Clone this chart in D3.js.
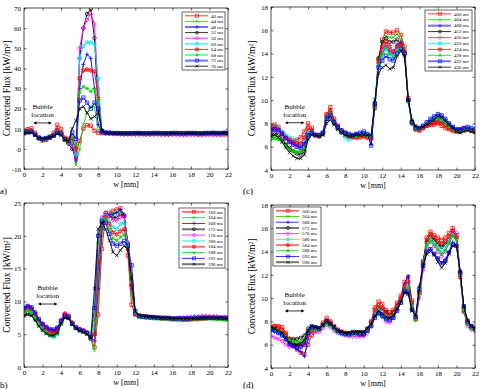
<!DOCTYPE html>
<html>
<head>
<meta charset="utf-8">
<script src="https://cdn.jsdelivr.net/npm/d3@7"></script>
<style>
  body { margin: 0; background: #fff; }
  svg text { font-family: "Liberation Serif", "Times New Roman", serif; fill: #000; }
</style>
</head>
<body>
<svg id="chart" width="480" height="389"></svg>
<script>
// sample positions across the heater, mm
const w = [0, 0.4, 0.8, 1.2, 1.6, 2, 2.4, 2.8, 3.2, 3.6,
  4, 4.4, 4.8, 5.2, 5.6, 6, 6.4, 6.8, 7.2, 7.6,
  8, 8.4, 8.8, 9.2, 9.6, 10, 10.4, 10.8, 11.2, 11.6,
  12, 12.4, 12.8, 13.2, 13.6, 14, 14.4, 14.8, 15.2, 15.6,
  16, 16.4, 16.8, 17.2, 17.6, 18, 18.4, 18.8, 19.2, 19.6,
  20, 20.4, 20.8, 21.2, 21.6, 22];

const xTicks = [0, 2, 4, 6, 8, 10, 12, 14, 16, 18, 20, 22];
const yTicksA = [-10, 0, 10, 20, 30, 40, 50, 60, 70];
const yTicksB = [0, 5, 10, 15, 20, 25];
const yTicksC = [4, 6, 8, 10, 12, 14, 16, 18];
const yTicksD = [4, 6, 8, 10, 12, 14, 16, 18];

const namesA = ['40 ms', '44 ms', '48 ms', '52 ms', '56 ms', '60 ms', '64 ms', '68 ms', '72 ms', '76 ms'];
const namesB = ['160 ms', '164 ms', '168 ms', '172 ms', '176 ms', '180 ms', '184 ms', '188 ms', '192 ms', '196 ms'];
const namesC = ['400 ms', '404 ms', '408 ms', '412 ms', '416 ms', '420 ms', '424 ms', '428 ms', '432 ms', '436 ms'];
const namesD = ['560 ms', '564 ms', '568 ms', '572 ms', '576 ms', '580 ms', '584 ms', '588 ms', '592 ms', '596 ms'];

// convected flux, kW/m2 (one row per time step)
const fluxA = [
  [9.0, 9.8, 10.2, 8.0, 5.5, 4.2, 4.5, 5.5, 8.0, 12.0, 10.0, 5.5, 5.0, 6.0, -2.0, 4.0, 10.0, 11.8, 11.5, 9.0, 8.0, 7.8,
   7.9, 7.8, 7.7, 7.6, 7.6, 7.5, 7.5, 7.6, 7.6, 7.5, 7.5, 7.4, 7.5, 7.5, 7.6, 7.5, 7.4, 7.4,
   7.5, 7.5, 7.4, 7.4, 7.5, 7.5, 7.4, 7.3, 7.4, 7.4, 7.5, 7.4, 7.4, 7.3, 7.4, 7.4],
  [8.5, 9.2, 9.5, 7.5, 5.0, 4.0, 4.3, 5.2, 7.0, 10.5, 8.5, 4.5, 3.5, 3.0, -8.0, 0.0, 12.0, 18.0, 21.0, 21.0, 9.0, 7.8,
   7.8, 7.8, 7.7, 7.7, 7.6, 7.6, 7.6, 7.5, 7.5, 7.5, 7.6, 7.6, 7.5, 7.5, 7.5, 7.4, 7.5, 7.5,
   7.6, 7.5, 7.5, 7.4, 7.4, 7.5, 7.5, 7.5, 7.4, 7.4, 7.5, 7.5, 7.4, 7.4, 7.5, 7.5],
  [8.2, 8.8, 9.0, 7.2, 5.0, 4.2, 4.6, 5.4, 6.8, 9.5, 8.0, 4.5, 3.0, 2.0, -6.0, 30.0, 42.0, 47.0, 45.0, 30.0, 12.0, 8.2,
   8.0, 7.9, 7.8, 7.8, 7.7, 7.7, 7.7, 7.6, 7.7, 7.7, 7.6, 7.6, 7.6, 7.7, 7.7, 7.6, 7.6, 7.6,
   7.7, 7.7, 7.6, 7.6, 7.7, 7.7, 7.7, 7.6, 7.6, 7.7, 7.7, 7.8, 7.7, 7.7, 7.8, 7.8],
  [8.0, 8.5, 8.8, 7.0, 5.2, 4.5, 5.0, 5.6, 6.5, 8.8, 7.6, 4.5, 2.5, 0.0, -4.0, 45.0, 60.0, 67.0, 69.5, 55.0, 20.0, 8.3,
   8.1, 8.0, 7.9, 7.8, 7.8, 7.8, 7.7, 7.7, 7.8, 7.8, 7.7, 7.7, 7.7, 7.8, 7.8, 7.7, 7.7, 7.7,
   7.8, 7.8, 7.7, 7.7, 7.8, 7.8, 7.8, 7.7, 7.7, 7.8, 7.8, 7.9, 7.8, 7.8, 7.9, 7.9],
  [8.3, 8.8, 9.2, 7.3, 5.3, 4.6, 5.0, 5.8, 7.0, 9.6, 8.2, 5.0, 3.0, 2.0, -5.0, 50.0, 60.0, 64.0, 67.0, 62.0, 30.0, 8.0,
   7.6, 7.5, 7.4, 7.3, 7.3, 7.2, 7.2, 7.2, 7.1, 7.1, 7.1, 7.0, 7.0, 7.1, 7.1, 7.0, 7.0, 7.0,
   7.0, 7.1, 7.0, 6.9, 6.9, 7.0, 7.0, 6.9, 6.9, 6.9, 7.0, 7.0, 6.9, 6.9, 6.9, 7.0],
  [8.0, 8.5, 8.8, 7.2, 5.2, 4.6, 5.0, 5.8, 6.8, 9.0, 7.8, 4.6, 3.2, 4.0, -3.0, 45.0, 51.0, 53.0, 53.0, 52.0, 35.0, 9.0,
   7.9, 7.8, 7.7, 7.7, 7.6, 7.6, 7.6, 7.6, 7.7, 7.7, 7.6, 7.6, 7.6, 7.6, 7.7, 7.6, 7.6, 7.5,
   7.6, 7.6, 7.6, 7.5, 7.6, 7.6, 7.6, 7.5, 7.5, 7.6, 7.6, 7.6, 7.5, 7.5, 7.6, 7.6],
  [8.2, 8.8, 9.0, 7.2, 5.4, 4.8, 5.2, 6.0, 7.0, 9.2, 8.0, 5.0, 3.5, 5.0, 0.0, 35.0, 39.0, 39.5, 39.0, 38.5, 25.0, 9.0,
   7.8, 7.7, 7.6, 7.6, 7.5, 7.5, 7.5, 7.5, 7.6, 7.6, 7.5, 7.5, 7.5, 7.5, 7.6, 7.5, 7.5, 7.4,
   7.5, 7.5, 7.5, 7.4, 7.5, 7.5, 7.5, 7.4, 7.4, 7.5, 7.5, 7.5, 7.4, 7.4, 7.5, 7.5],
  [8.0, 8.5, 8.6, 7.0, 5.5, 5.0, 5.4, 6.0, 6.8, 8.5, 7.5, 4.8, 3.6, 6.0, 2.0, 28.0, 31.0, 30.0, 28.5, 30.0, 24.0, 9.0,
   7.9, 7.8, 7.7, 7.7, 7.6, 7.6, 7.6, 7.6, 7.6, 7.6, 7.6, 7.5, 7.6, 7.6, 7.6, 7.5, 7.5, 7.5,
   7.6, 7.6, 7.5, 7.5, 7.6, 7.6, 7.6, 7.5, 7.5, 7.6, 7.6, 7.6, 7.5, 7.5, 7.6, 7.6],
  [7.8, 8.3, 8.4, 7.0, 5.6, 5.0, 5.4, 6.0, 6.6, 8.0, 7.2, 4.8, 4.0, 8.0, 5.0, 24.0, 25.5, 23.0, 20.0, 23.0, 20.0, 9.0,
   8.1, 8.0, 7.9, 7.9, 7.8, 7.8, 7.8, 7.8, 7.9, 7.9, 7.8, 7.8, 7.8, 7.9, 7.9, 7.8, 7.8, 7.8,
   7.9, 7.9, 7.8, 7.8, 7.9, 7.9, 7.9, 7.8, 7.8, 7.9, 7.9, 8.0, 7.9, 7.9, 8.0, 8.0],
  [7.6, 8.0, 8.0, 6.8, 5.5, 5.0, 5.3, 5.8, 6.4, 7.5, 6.8, 4.5, 3.8, 10.0, 14.0, 20.0, 21.0, 18.0, 15.0, 16.0, 18.0, 9.0,
   8.0, 7.9, 7.8, 7.8, 7.7, 7.7, 7.7, 7.7, 7.8, 7.8, 7.7, 7.7, 7.7, 7.8, 7.8, 7.7, 7.7, 7.7,
   7.8, 7.8, 7.7, 7.7, 7.8, 7.8, 7.8, 7.7, 7.7, 7.8, 7.8, 7.9, 7.8, 7.8, 7.9, 7.9]
];

const fluxB = [
  [8.6, 9.0, 8.8, 8.0, 7.0, 6.4, 6.0, 5.6, 5.4, 5.8, 7.0, 8.0, 7.7, 6.6, 6.0, 5.7, 5.5, 5.2,
   4.4, 3.0, 8.0, 18.0, 23.0, 23.5, 23.8, 24.0, 24.2, 23.0, 17.0, 9.5, 8.0,
   7.8, 7.7, 7.6, 7.6, 7.5, 7.5, 7.4, 7.4, 7.3, 7.3, 7.3, 7.3, 7.2, 7.2, 7.3, 7.3, 7.3, 7.4, 7.4, 7.5, 7.5, 7.5, 7.4, 7.4, 7.5],
  [8.2, 8.5, 8.2, 7.5, 6.6, 5.9, 5.4, 5.0, 4.8, 5.2, 6.6, 7.6, 7.5, 6.5, 5.9, 5.6, 5.4, 5.1,
   4.2, 2.5, 10.0, 20.0, 23.0, 23.3, 23.5, 23.6, 23.8, 23.0, 18.5, 11.0, 8.0,
   7.6, 7.5, 7.5, 7.4, 7.4, 7.4, 7.3, 7.3, 7.3, 7.3, 7.2, 7.2, 7.2, 7.2, 7.2, 7.3, 7.3, 7.3, 7.3, 7.3, 7.3, 7.2, 7.2, 7.1, 7.1],
  [9.0, 9.3, 9.1, 8.3, 7.3, 6.6, 6.1, 5.7, 5.6, 6.0, 7.0, 7.8, 7.6, 6.6, 6.0, 5.7, 5.5, 5.2,
   4.5, 4.0, 12.0, 21.0, 23.2, 23.2, 23.3, 23.5, 24.0, 23.3, 18.5, 12.0, 8.1,
   7.7, 7.6, 7.6, 7.5, 7.5, 7.5, 7.4, 7.4, 7.4, 7.4, 7.3, 7.3, 7.3, 7.3, 7.4, 7.4, 7.4, 7.4, 7.5, 7.5, 7.5, 7.4, 7.4, 7.4, 7.4],
  [7.9, 8.2, 8.0, 7.3, 6.4, 5.7, 5.2, 4.9, 4.8, 5.2, 6.6, 7.6, 7.5, 6.6, 6.0, 5.6, 5.4, 5.1,
   4.3, 5.0, 15.0, 22.5, 23.5, 23.0, 22.8, 22.8, 23.3, 23.0, 18.8, 12.5, 8.2,
   7.8, 7.7, 7.7, 7.6, 7.6, 7.5, 7.5, 7.5, 7.4, 7.4, 7.4, 7.4, 7.4, 7.4, 7.4, 7.4, 7.5, 7.5, 7.5, 7.5, 7.5, 7.5, 7.5, 7.5, 7.5],
  [8.6, 9.0, 8.8, 8.0, 7.0, 6.3, 5.8, 5.3, 5.1, 5.6, 7.2, 8.2, 7.9, 6.8, 6.1, 5.8, 5.6, 5.3,
   4.4, 4.0, 15.0, 22.8, 23.5, 23.0, 22.4, 22.3, 22.8, 23.0, 19.0, 13.0, 8.1,
   7.7, 7.7, 7.6, 7.6, 7.5, 7.5, 7.5, 7.4, 7.4, 7.4, 7.4, 7.5, 7.5, 7.6, 7.6, 7.7, 7.7, 7.8, 7.8, 7.7, 7.7, 7.7, 7.6, 7.6, 7.6],
  [8.3, 8.6, 8.3, 7.5, 6.5, 5.8, 5.2, 4.8, 4.6, 5.0, 6.6, 7.7, 7.6, 6.6, 6.0, 5.6, 5.4, 5.1,
   4.4, 6.0, 17.0, 22.5, 23.0, 22.3, 21.3, 21.0, 21.8, 22.0, 18.5, 13.0, 8.2,
   7.7, 7.6, 7.6, 7.5, 7.5, 7.4, 7.4, 7.4, 7.3, 7.3, 7.3, 7.3, 7.4, 7.4, 7.4, 7.5, 7.5, 7.5, 7.5, 7.5, 7.4, 7.4, 7.4, 7.3, 7.3],
  [8.6, 9.0, 8.8, 8.0, 7.0, 6.4, 5.9, 5.4, 5.2, 5.7, 7.0, 8.0, 7.7, 6.7, 6.0, 5.7, 5.5, 5.2,
   4.4, 5.0, 16.0, 22.0, 22.8, 21.8, 20.5, 20.2, 20.7, 21.0, 18.0, 12.5, 8.1,
   7.8, 7.7, 7.6, 7.6, 7.5, 7.5, 7.4, 7.4, 7.4, 7.3, 7.3, 7.3, 7.3, 7.3, 7.3, 7.4, 7.4, 7.4, 7.5, 7.5, 7.5, 7.4, 7.4, 7.4, 7.4],
  [8.3, 8.6, 8.3, 7.5, 6.6, 5.9, 5.3, 4.9, 4.7, 5.1, 6.6, 7.6, 7.5, 6.5, 5.9, 5.6, 5.4, 5.1,
   4.3, 7.0, 19.0, 22.3, 22.5, 21.0, 19.6, 19.3, 19.8, 20.2, 18.3, 14.0, 8.3,
   7.6, 7.6, 7.5, 7.5, 7.4, 7.4, 7.4, 7.3, 7.3, 7.3, 7.3, 7.3, 7.3, 7.3, 7.3, 7.3, 7.4, 7.4, 7.4, 7.4, 7.3, 7.3, 7.3, 7.2, 7.2],
  [9.0, 9.3, 9.1, 8.3, 7.3, 6.6, 6.1, 5.8, 5.7, 6.0, 7.0, 7.8, 7.6, 6.6, 6.0, 5.7, 5.5, 5.2,
   4.6, 9.0, 20.0, 22.2, 22.0, 20.3, 18.8, 18.5, 18.8, 19.2, 18.5, 15.5, 8.5,
   7.8, 7.7, 7.7, 7.6, 7.6, 7.5, 7.5, 7.5, 7.5, 7.4, 7.4, 7.4, 7.4, 7.4, 7.4, 7.5, 7.5, 7.5, 7.5, 7.5, 7.5, 7.5, 7.5, 7.5, 7.4],
  [7.8, 8.0, 7.8, 7.1, 6.2, 5.6, 5.1, 4.8, 4.8, 5.2, 6.6, 7.5, 7.4, 6.5, 5.9, 5.5, 5.3, 5.0,
   4.4, 12.0, 21.0, 22.0, 21.0, 19.3, 17.5, 17.0, 17.8, 18.5, 18.0, 13.5, 8.5,
   7.9, 7.8, 7.7, 7.7, 7.6, 7.6, 7.5, 7.5, 7.5, 7.4, 7.4, 7.4, 7.4, 7.4, 7.4, 7.4, 7.4, 7.5, 7.5, 7.5, 7.5, 7.5, 7.5, 7.4, 7.4]
];

const fluxC = [
  [7.8, 7.9, 7.7, 7.2, 6.8, 6.6, 6.5, 6.6, 6.8, 7.3, 8.0, 7.6, 7.0, 6.9, 7.2, 8.8, 9.4, 8.4, 7.8, 7.4, 7.2, 7.0, 6.9, 6.8, 6.8, 6.9, 6.8,
   6.7, 9.5, 13.5, 15.2, 15.9, 15.8, 15.8, 16.0, 15.6, 14.6, 10.2, 8.1,
   7.5, 7.4, 7.6, 7.8, 7.9, 7.9, 8.0, 7.8, 7.6, 7.5, 7.4, 7.3, 7.4, 7.6, 7.5, 7.4, 7.3],
  [6.8, 6.8, 6.7, 6.6, 6.2, 5.9, 5.7, 5.6, 5.5, 5.8, 7.0, 7.2, 7.0, 6.9, 7.1, 8.6, 9.0, 8.2, 7.6, 7.3, 7.1, 7.0, 6.9, 6.9, 7.0, 7.0, 6.9,
   6.9, 9.6, 13.6, 15.0, 15.5, 15.4, 15.4, 15.7, 15.2, 14.4, 10.0, 8.1,
   7.5, 7.5, 7.7, 7.9, 8.1, 8.2, 8.3, 8.1, 7.9, 7.7, 7.5, 7.3, 7.3, 7.4, 7.5, 7.4, 7.3],
  [7.5, 7.6, 7.5, 7.2, 6.8, 6.4, 6.2, 6.1, 6.0, 6.3, 7.2, 7.3, 7.0, 7.0, 7.3, 8.6, 8.8, 8.2, 7.8, 7.4, 7.2, 7.0, 7.0, 7.1, 7.1, 7.2, 7.0,
   6.2, 9.8, 13.0, 14.0, 14.6, 14.2, 14.0, 14.8, 15.0, 14.2, 10.0, 8.1,
   7.6, 7.6, 7.8, 8.0, 8.3, 8.5, 8.7, 8.6, 8.3, 8.0, 7.7, 7.5, 7.5, 7.6, 7.6, 7.5, 7.4],
  [7.0, 7.2, 7.0, 6.7, 6.2, 5.9, 5.6, 5.4, 5.3, 5.6, 6.8, 7.1, 7.0, 6.9, 7.1, 8.2, 8.6, 8.0, 7.6, 7.2, 7.0, 6.9, 6.9, 7.0, 7.0, 7.1, 7.0,
   6.9, 9.6, 13.6, 15.0, 15.3, 15.0, 15.0, 15.2, 14.8, 14.0, 10.0, 8.2,
   7.7, 7.6, 7.7, 7.9, 8.1, 8.3, 8.5, 8.4, 8.1, 7.8, 7.6, 7.4, 7.4, 7.5, 7.5, 7.4, 7.3],
  [7.4, 7.5, 7.4, 7.1, 6.8, 6.5, 6.3, 6.1, 6.0, 6.3, 7.0, 7.2, 7.0, 7.0, 7.2, 8.5, 8.9, 8.2, 7.7, 7.3, 7.1, 7.0, 6.9, 6.9, 7.0, 7.0, 6.9,
   6.8, 9.4, 13.2, 14.3, 14.8, 14.3, 14.0, 14.6, 14.6, 14.0, 10.0, 8.0,
   7.5, 7.5, 7.7, 7.9, 8.1, 8.2, 8.3, 8.2, 8.0, 7.7, 7.5, 7.3, 7.3, 7.5, 7.5, 7.4, 7.3],
  [7.7, 7.8, 7.6, 7.3, 7.0, 6.8, 6.6, 6.4, 6.2, 6.6, 7.3, 7.2, 7.0, 7.0, 7.2, 8.6, 9.0, 8.1, 7.5, 7.2, 6.8, 6.6, 6.8, 6.9, 7.0, 7.1, 7.0,
   6.9, 9.3, 12.8, 13.6, 14.4, 13.9, 13.8, 14.4, 14.6, 14.0, 10.0, 8.0,
   7.5, 7.6, 7.7, 8.0, 8.2, 8.4, 8.5, 8.4, 8.1, 7.8, 7.5, 7.3, 7.3, 7.5, 7.6, 7.5, 7.4],
  [7.6, 7.7, 7.5, 7.1, 6.8, 6.6, 6.4, 6.3, 6.3, 6.8, 7.6, 7.4, 7.0, 6.9, 7.1, 8.7, 9.1, 8.2, 7.6, 7.3, 7.1, 6.9, 6.8, 6.8, 6.9, 6.9, 6.8,
   6.7, 9.3, 13.3, 14.6, 15.0, 14.6, 14.2, 14.6, 14.8, 14.2, 10.0, 8.0,
   7.5, 7.4, 7.6, 7.8, 7.9, 8.0, 8.1, 8.0, 7.8, 7.6, 7.4, 7.3, 7.3, 7.5, 7.5, 7.4, 7.3],
  [6.6, 6.7, 6.6, 6.4, 6.0, 5.7, 5.6, 5.5, 5.6, 5.9, 6.9, 7.1, 7.0, 6.9, 7.1, 8.4, 8.8, 8.1, 7.6, 7.3, 7.1, 7.0, 6.9, 6.9, 7.0, 7.0, 6.9,
   6.9, 9.4, 13.0, 14.0, 14.5, 14.0, 13.7, 14.2, 14.3, 13.8, 9.8, 8.0,
   7.5, 7.5, 7.7, 8.0, 8.2, 8.3, 8.4, 8.3, 8.0, 7.7, 7.5, 7.3, 7.3, 7.4, 7.5, 7.4, 7.3],
  [7.4, 7.5, 7.4, 7.1, 6.7, 6.4, 6.2, 6.0, 5.9, 6.2, 7.0, 7.2, 7.0, 7.0, 7.2, 8.4, 8.7, 8.1, 7.7, 7.4, 7.2, 7.1, 7.0, 7.1, 7.2, 7.3, 7.1,
   6.1, 9.7, 12.8, 13.4, 13.8, 13.5, 13.4, 14.0, 14.4, 14.0, 10.0, 8.1,
   7.6, 7.6, 7.8, 8.1, 8.4, 8.6, 8.8, 8.7, 8.4, 8.0, 7.7, 7.5, 7.5, 7.6, 7.7, 7.6, 7.5],
  [6.9, 7.0, 6.8, 6.4, 5.9, 5.5, 5.2, 5.0, 5.0, 5.3, 6.6, 7.0, 7.0, 6.9, 7.0, 8.0, 8.3, 7.9, 7.5, 7.2, 7.0, 6.9, 6.9, 7.0, 7.0, 7.0, 7.0,
   7.0, 10.0, 12.3, 12.8, 13.0, 12.7, 12.8, 13.8, 14.2, 13.8, 10.0, 8.3,
   7.8, 7.6, 7.7, 7.9, 8.1, 8.3, 8.6, 8.5, 8.2, 7.9, 7.6, 7.3, 7.2, 7.3, 7.4, 7.3, 7.2]
];

const fluxD = [
  [7.4, 7.6, 7.6, 7.5, 7.0, 6.4, 6.0, 5.6, 5.3, 5.2, 6.0, 6.8, 7.2, 7.4, 7.9, 8.3, 8.0, 7.6, 7.3, 7.1,
   7.0, 7.0, 7.0, 7.0, 6.9, 6.9, 7.3, 8.0, 9.2, 9.7, 9.5, 9.0, 8.8, 9.0, 9.6, 10.2, 11.4, 11.8, 9.8, 8.3,
   10.5, 13.0, 15.2, 15.7, 15.4, 15.2, 15.0, 15.2, 15.6, 16.0, 15.4, 12.0, 9.0, 8.0, 7.6, 7.4],
  [7.5, 7.4, 7.3, 7.1, 6.8, 6.5, 6.4, 6.3, 6.3, 6.5, 7.0, 7.3, 7.3, 7.3, 7.6, 7.9, 7.7, 7.4, 7.2, 7.1,
   7.0, 7.0, 7.1, 7.1, 7.0, 7.0, 7.3, 7.8, 8.6, 8.8, 8.6, 8.3, 8.3, 8.6, 9.2, 9.8, 10.7, 10.9, 9.3, 8.1,
   10.2, 12.8, 15.0, 15.4, 15.1, 14.8, 14.6, 14.8, 15.2, 15.6, 15.0, 11.8, 8.8, 7.8, 7.4, 7.2],
  [7.2, 7.1, 7.0, 6.8, 6.4, 6.0, 5.8, 5.6, 5.4, 5.0, 6.5, 7.4, 7.5, 7.4, 7.7, 8.0, 7.8, 7.5, 7.2, 7.0,
   6.9, 6.9, 7.0, 7.0, 6.9, 6.9, 7.2, 7.6, 8.4, 8.8, 8.6, 8.3, 8.2, 8.4, 9.0, 9.7, 11.2, 11.9, 9.5, 8.3,
   10.3, 12.6, 14.0, 14.2, 13.8, 13.4, 13.0, 13.3, 14.0, 14.8, 14.6, 12.0, 9.2, 8.0, 7.6, 7.4],
  [7.4, 7.3, 7.2, 7.0, 6.7, 6.5, 6.5, 6.5, 6.6, 6.8, 7.4, 7.6, 7.5, 7.4, 7.7, 8.0, 7.8, 7.5, 7.2, 7.1,
   7.0, 7.0, 7.1, 7.1, 7.1, 7.1, 7.4, 7.9, 8.7, 9.2, 9.1, 8.8, 8.6, 8.8, 9.3, 9.9, 10.8, 10.6, 9.0, 8.4,
   10.6, 13.2, 14.8, 15.2, 15.0, 14.6, 14.4, 14.6, 15.0, 15.5, 15.2, 12.3, 9.2, 8.0, 7.6, 7.4],
  [6.8, 6.6, 6.5, 6.3, 6.0, 5.8, 5.9, 6.0, 6.1, 6.3, 6.8, 7.1, 7.1, 7.1, 7.4, 7.7, 7.5, 7.2, 7.0, 6.9,
   6.8, 6.7, 6.7, 6.7, 6.7, 6.7, 7.0, 7.6, 8.6, 8.8, 8.4, 8.0, 7.9, 8.3, 9.0, 9.6, 10.5, 10.8, 9.2, 8.2,
   10.0, 12.4, 14.4, 14.8, 14.5, 14.0, 13.6, 14.0, 14.8, 15.8, 15.6, 12.2, 8.8, 7.6, 7.3, 7.2],
  [7.3, 7.2, 7.1, 6.9, 6.6, 6.3, 6.1, 6.0, 6.0, 6.2, 6.9, 7.3, 7.3, 7.3, 7.6, 7.9, 7.7, 7.4, 7.1, 7.0,
   6.9, 6.8, 6.9, 6.9, 6.9, 6.9, 7.2, 7.8, 8.8, 9.0, 8.8, 8.4, 8.3, 8.5, 9.2, 9.8, 10.9, 11.2, 9.4, 8.3,
   10.8, 13.0, 14.6, 15.0, 14.7, 14.3, 14.0, 14.3, 15.0, 15.6, 15.2, 12.0, 9.0, 7.8, 7.5, 7.3],
  [7.5, 7.6, 7.5, 7.3, 6.9, 6.5, 6.2, 6.0, 5.9, 6.1, 6.8, 7.2, 7.3, 7.3, 7.7, 8.1, 7.9, 7.5, 7.2, 7.1,
   7.0, 6.9, 7.0, 7.0, 6.9, 6.9, 7.3, 7.9, 9.0, 9.4, 9.1, 8.7, 8.5, 8.8, 9.4, 10.0, 11.0, 11.4, 9.6, 8.2,
   10.4, 13.0, 15.0, 15.5, 15.2, 14.9, 14.7, 14.9, 15.3, 15.8, 15.2, 11.8, 8.9, 7.8, 7.5, 7.3],
  [7.4, 7.3, 7.2, 7.0, 6.7, 6.4, 6.3, 6.2, 6.2, 6.4, 7.0, 7.3, 7.3, 7.3, 7.6, 7.8, 7.6, 7.3, 7.1, 7.0,
   6.9, 6.9, 7.0, 7.0, 7.0, 7.0, 7.2, 7.7, 8.4, 8.6, 8.4, 8.2, 8.2, 8.5, 9.1, 9.7, 10.5, 10.9, 9.2, 8.1,
   10.4, 12.9, 14.5, 14.9, 14.6, 14.2, 13.8, 14.1, 14.7, 15.3, 15.0, 12.0, 9.0, 7.8, 7.4, 7.2],
  [7.3, 7.2, 7.0, 6.8, 6.5, 6.1, 5.9, 5.8, 5.8, 6.0, 7.0, 7.5, 7.5, 7.4, 7.7, 8.0, 7.8, 7.5, 7.2, 7.0,
   6.9, 6.9, 7.0, 7.0, 6.9, 6.9, 7.2, 7.6, 8.3, 8.7, 8.5, 8.2, 8.1, 8.3, 8.9, 9.6, 10.6, 10.4, 9.0, 8.4,
   10.8, 12.8, 14.0, 14.2, 13.8, 13.4, 13.0, 13.2, 13.9, 14.6, 14.5, 12.2, 9.3, 8.0, 7.6, 7.4],
  [7.5, 7.4, 7.2, 7.0, 6.6, 6.2, 6.0, 6.0, 6.1, 6.4, 7.2, 7.6, 7.5, 7.4, 7.7, 8.0, 7.8, 7.5, 7.2, 7.1,
   7.0, 7.0, 7.1, 7.1, 7.1, 7.1, 7.4, 7.8, 8.5, 8.9, 8.7, 8.4, 8.3, 8.5, 9.1, 9.7, 10.5, 10.4, 8.9, 8.5,
   11.0, 12.8, 13.8, 14.0, 13.7, 13.1, 12.6, 13.0, 13.8, 14.5, 14.5, 12.3, 9.3, 8.1, 7.6, 7.4]
];

const colors = ['#ff0000', '#00d400', '#0000ff', '#000000', '#ff00ff',
  '#00e6ee', '#ff0000', '#00d400', '#0000ff', '#000000'];
const markers = ['square', 'x', 'plus', 'circle', 'diamond',
  'star', 'hexagram', 'asterisk', 'square', 'x'];

const panels = [
  { tag: 'a)', tagX: 0, tagY: 194, names: namesA, flux: fluxA, yDomain: [-10, 70], yTicks: yTicksA,
    left: 24, right: 228, top: 8, bottom: 169, labelX: 7,
    legend: { x: 182, y: 12, w: 43, h: 58 }, thick: [2, 5, 8],
    bubble: { w0: 1.0, w1: 3.0, v: 12.9 } },
  { tag: 'b)', tagX: 0, tagY: 388, names: namesB, flux: fluxB, yDomain: [0, 25], yTicks: yTicksB,
    left: 24, right: 228, top: 203, bottom: 367, labelX: 7,
    legend: { x: 179, y: 208, w: 46, h: 60 }, thick: [0, 3, 6, 9],
    bubble: { w0: 1.5, w1: 3.6, v: 9.6 } },
  { tag: '(c)', tagX: 243, tagY: 194, names: namesC, flux: fluxC, yDomain: [4, 18], yTicks: yTicksC,
    left: 271, right: 475, top: 7, bottom: 170, labelX: 252,
    legend: { x: 425, y: 10, w: 47, h: 61 }, thick: [2, 5, 8],
    bubble: { w0: 1.5, w1: 3.6, v: 8.06 } },
  { tag: '(d)', tagX: 243, tagY: 388, names: namesD, flux: fluxD, yDomain: [4, 18], yTicks: yTicksD,
    left: 271, right: 475, top: 205, bottom: 368, labelX: 252,
    legend: { x: 273, y: 207, w: 48, h: 59 }, thick: [0, 3, 6, 9],
    bubble: { w0: 1.5, w1: 3.6, v: 8.9 } }
];

function markerPath(kind, r) {
  const p = d3.path();
  if (kind === 'square') {
    p.rect(-r, -r, 2 * r, 2 * r);
  } else if (kind === 'x') {
    p.moveTo(-r, -r); p.lineTo(r, r);
    p.moveTo(-r, r); p.lineTo(r, -r);
  } else if (kind === 'plus') {
    p.moveTo(-r * 1.2, 0); p.lineTo(r * 1.2, 0);
    p.moveTo(0, -r * 1.2); p.lineTo(0, r * 1.2);
  } else if (kind === 'circle') {
    p.moveTo(r, 0); p.arc(0, 0, r, 0, 2 * Math.PI);
  } else if (kind === 'diamond') {
    p.moveTo(0, -r * 1.3); p.lineTo(r * 1.1, 0); p.lineTo(0, r * 1.3); p.lineTo(-r * 1.1, 0); p.closePath();
  } else if (kind === 'star' || kind === 'hexagram') {
    const n = kind === 'star' ? 5 : 6;
    for (let k = 0; k < 2 * n; k++) {
      const a = -Math.PI / 2 + k * Math.PI / n;
      const rr = k % 2 === 0 ? r * 1.4 : r * 0.6;
      if (k === 0) p.moveTo(rr * Math.cos(a), rr * Math.sin(a));
      else p.lineTo(rr * Math.cos(a), rr * Math.sin(a));
    }
    p.closePath();
  } else {
    // asterisk
    const q = r * 0.8;
    p.moveTo(-r * 1.1, 0); p.lineTo(r * 1.1, 0);
    p.moveTo(0, -r * 1.1); p.lineTo(0, r * 1.1);
    p.moveTo(-q, -q); p.lineTo(q, q);
    p.moveTo(-q, q); p.lineTo(q, -q);
  }
  return p.toString();
}

const svg = d3.select('#chart');
const defs = svg.append('defs');

panels.forEach((cfg, pi) => {
  const x = d3.scaleLinear().domain([0, 22]).range([cfg.left, cfg.right]);
  const y = d3.scaleLinear().domain(cfg.yDomain).range([cfg.bottom, cfg.top]);
  const g = svg.append('g');

  defs.append('clipPath').attr('id', `clip${pi}`)
    .append('rect')
    .attr('x', cfg.left).attr('y', cfg.top)
    .attr('width', cfg.right - cfg.left).attr('height', cfg.bottom - cfg.top);

  const plot = g.append('g').attr('clip-path', `url(#clip${pi})`);
  const line = d3.line()
    .x((d, i) => x(w[i]))
    .y((d) => y(d));

  cfg.flux.forEach((series, si) => {
    plot.append('path')
      .datum(series)
      .attr('d', line)
      .attr('fill', 'none')
      .attr('stroke', colors[si])
      .attr('stroke-width', 0.9);

    const mp = markerPath(markers[si], 1.7);
    plot.append('g')
      .selectAll('path')
      .data(series)
      .join('path')
      .attr('d', mp)
      .attr('transform', (d, i) => `translate(${x(w[i])},${y(d)})`)
      .attr('fill', 'none')
      .attr('stroke', colors[si])
      .attr('stroke-width', 0.75);
  });

  // bubble annotation
  const b = cfg.bubble;
  const ay = y(b.v);
  const ax0 = x(b.w0);
  const ax1 = x(b.w1);
  g.append('line')
    .attr('x1', ax0 + 1).attr('x2', ax1 - 1)
    .attr('y1', ay).attr('y2', ay)
    .attr('stroke', '#000').attr('stroke-width', 0.8);
  g.append('path')
    .attr('d', `M${ax0},${ay}l3.2,-1.6v3.2Z M${ax1},${ay}l-3.2,-1.6v3.2Z`)
    .attr('fill', '#000');
  g.append('text')
    .attr('x', (ax0 + ax1) / 2).attr('y', ay - 14)
    .attr('text-anchor', 'middle').attr('font-size', 7)
    .text('Bubble');
  g.append('text')
    .attr('x', (ax0 + ax1) / 2).attr('y', ay - 5.6)
    .attr('text-anchor', 'middle').attr('font-size', 7)
    .text('location');

  // axes, MATLAB style ticks pointing inward
  const tick = 2.5;
  const fmt = (d) => String(d);
  g.append('g')
    .attr('transform', `translate(0,${cfg.bottom})`)
    .call(d3.axisBottom(x).tickValues(xTicks).tickSize(-tick).tickPadding(3.5).tickFormat(fmt));
  g.append('g')
    .attr('transform', `translate(0,${cfg.top})`)
    .call(d3.axisTop(x).tickValues(xTicks).tickSize(-tick).tickFormat(''));
  g.append('g')
    .attr('transform', `translate(${cfg.left},0)`)
    .call(d3.axisLeft(y).tickValues(cfg.yTicks).tickSize(-tick).tickPadding(3).tickFormat(fmt));
  g.append('g')
    .attr('transform', `translate(${cfg.right},0)`)
    .call(d3.axisRight(y).tickValues(cfg.yTicks).tickSize(-tick).tickFormat(''));

  g.selectAll('.domain').remove();
  g.selectAll('.tick line').attr('stroke', '#000').attr('stroke-width', 0.6);
  g.selectAll('.tick text')
    .attr('font-size', 7)
    .attr('font-family', '"Liberation Serif", "Times New Roman", serif');

  g.append('rect')
    .attr('x', cfg.left).attr('y', cfg.top)
    .attr('width', cfg.right - cfg.left).attr('height', cfg.bottom - cfg.top)
    .attr('fill', 'none').attr('stroke', '#000').attr('stroke-width', 0.7);

  // labels
  g.append('text')
    .attr('x', (cfg.left + cfg.right) / 2).attr('y', cfg.bottom + 17.5)
    .attr('text-anchor', 'middle').attr('font-size', 8)
    .text('w [mm]');
  g.append('text')
    .attr('transform', `translate(${cfg.labelX + 3},${(cfg.top + cfg.bottom) / 2}) rotate(-90)`)
    .attr('text-anchor', 'middle').attr('font-size', 9.5)
    .text('Convected Flux [kW/m²]');
  g.append('text')
    .attr('x', cfg.tagX).attr('y', cfg.tagY)
    .attr('font-size', 9)
    .text(cfg.tag);

  // legend
  const lg = cfg.legend;
  const leg = g.append('g');
  leg.append('rect')
    .attr('x', lg.x).attr('y', lg.y).attr('width', lg.w).attr('height', lg.h)
    .attr('fill', '#fff').attr('stroke', '#000').attr('stroke-width', 0.6);
  const step = (lg.h - 7.6) / 9;
  cfg.names.forEach((name, si) => {
    const ry = lg.y + 3.8 + si * step;
    const thick = cfg.thick.includes(si);
    leg.append('line')
      .attr('x1', lg.x + 3).attr('x2', lg.x + 26)
      .attr('y1', ry).attr('y2', ry)
      .attr('stroke', colors[si])
      .attr('stroke-width', thick ? 2 : 0.8)
      .attr('stroke-opacity', thick ? 0.55 : 1);
    leg.append('path')
      .attr('d', markerPath(markers[si], 1.5))
      .attr('transform', `translate(${lg.x + 15},${ry})`)
      .attr('fill', 'none')
      .attr('stroke', colors[si])
      .attr('stroke-width', 0.7);
    leg.append('text')
      .attr('x', lg.x + 29).attr('y', ry + 1.7)
      .attr('font-size', 5)
      .text(name);
  });
});
</script>
</body>
</html>
